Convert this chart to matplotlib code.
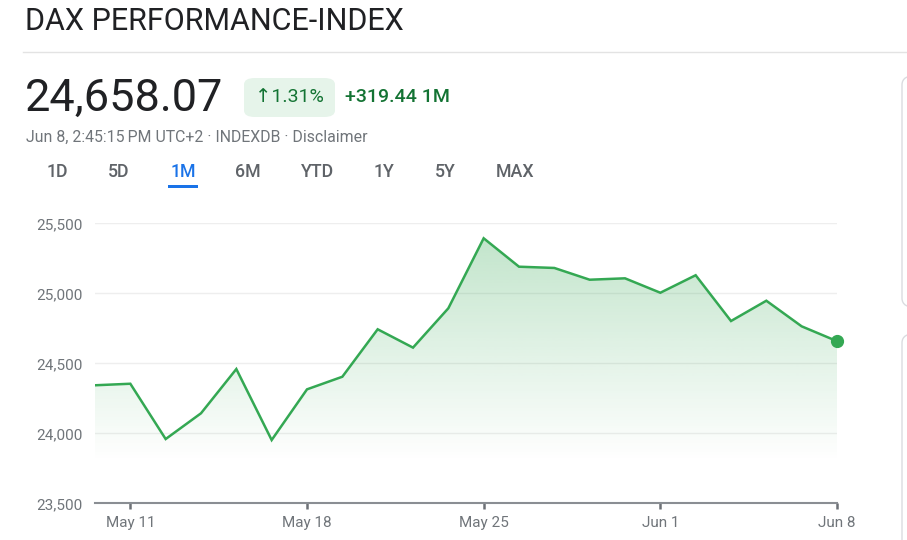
import matplotlib
matplotlib.use("Agg")
import matplotlib.pyplot as plt
import numpy as np
from matplotlib.patches import FancyBboxPatch, Rectangle
from matplotlib.lines import Line2D

plt.rcParams['font.family'] = ['Roboto', 'DejaVu Sans']

# ---------------- data ----------------
dates = ["May 8", "May 11", "May 12", "May 13", "May 14", "May 15",
         "May 18", "May 19", "May 20", "May 21", "May 22",
         "May 25", "May 26", "May 27", "May 28", "May 29",
         "Jun 1", "Jun 2", "Jun 3", "Jun 4", "Jun 5", "Jun 8"]
values = [24343, 24354, 23959, 24143, 24459, 23952,
          24314, 24404, 24743, 24612, 24893,
          25393, 25190, 25181, 25097, 25107,
          25004, 25129, 24802, 24947, 24764, 24658.07]
xtick_labels = ["May 11", "May 18", "May 25", "Jun 1", "Jun 8"]
ytick_values = [23500, 24000, 24500, 25000, 25500]
tabs = ["1D", "5D", "1M", "6M", "YTD", "1Y", "5Y", "MAX"]
title = "DAX PERFORMANCE-INDEX"
price = "24,658.07"
change_pct = "\u21911.31%"
change_abs = "+319.44 1M"
subtitle = "Jun 8, 2:45:15\u202fPM UTC+2 \u00b7 INDEXDB \u00b7 Disclaimer"

W, H = 907, 540
fig = plt.figure(figsize=(W / 100, H / 100), dpi=100)
fig.patch.set_facecolor("white")


def fx(px):
    return px / W


def fy(py):
    return 1 - py / H


GREEN = "#34a853"
GRAY_TXT = "#70757a"

# ---------------- header ----------------
fig.text(fx(25), fy(22), title, fontsize=22, color="#202124", va="center", ha="left")
fig.add_artist(Line2D([fx(23), 1.0], [fy(52), fy(52)], color="#e3e3e3", lw=1))

fig.text(fx(25), fy(99), price, fontsize=32.5, color="#202124", va="center", ha="left")

badge = FancyBboxPatch((fx(244), fy(117)), fx(335) - fx(244), fy(78) - fy(117),
                       boxstyle="round,pad=0,rounding_size=0.012",
                       transform=fig.transFigure, facecolor="#e6f4ea", edgecolor="none")
fig.add_artist(badge)
fig.text(fx(289.5), fy(97.5), change_pct, fontsize=14, color="#137333", va="center", ha="center",
         family=['Roboto', 'DejaVu Sans'])
fig.text(fx(345), fy(97.5), change_abs, fontsize=14, color="#137333", va="center", ha="left",
         fontweight="medium")

fig.text(fx(26), fy(137), subtitle, fontsize=11.4, color=GRAY_TXT, va="center", ha="left",
         family=['Roboto', 'DejaVu Sans'])

tab_x = [57, 119, 183, 248, 318, 384, 445, 515]
for t, x in zip(tabs, tab_x):
    col = "#1a73e8" if t == "1M" else "#5f6368"
    fig.text(fx(x), fy(172), t, fontsize=12.8, color=col, va="center", ha="center",
             fontweight="medium")
fig.add_artist(Rectangle((fx(168), fy(188)), fx(198) - fx(168), fy(185) - fy(188),
                         transform=fig.transFigure, facecolor="#1a73e8", edgecolor="none"))

# right-side cards (edges)
for (top, bot) in [(75, 308), (333, 560)]:
    card = FancyBboxPatch((fx(902), fy(bot)), 0.2, fy(top) - fy(bot),
                          boxstyle="round,pad=0,rounding_size=0.018",
                          transform=fig.transFigure, facecolor="white",
                          edgecolor="#dadce0", lw=1, clip_on=False)
    fig.add_artist(card)

# ---------------- chart ----------------
left_px, right_px = 95, 837
top_px, bot_px = 223.3, 503.3
ax = fig.add_axes([fx(left_px), fy(bot_px), fx(right_px) - fx(left_px), fy(top_px) - fy(bot_px)])
x = np.arange(len(values))
ymin, ymax = 23500, 25500
ax.set_xlim(0, len(values) - 1)
ax.set_ylim(ymin, ymax)

# gradient fill
fill_bottom = 23800
fill_top = 25400
grad = np.linspace(0, 1, 256).reshape(-1, 1)
rgba = np.zeros((256, 1, 4))
rgba[..., 0] = 52 / 255
rgba[..., 1] = 168 / 255
rgba[..., 2] = 83 / 255
rgba[..., 3] = 0.3 * grad
im = ax.imshow(rgba, extent=[0, len(values) - 1, fill_bottom, fill_top], origin="lower",
               aspect="auto", zorder=1, interpolation="bilinear")
poly = ax.fill_between(x, values, fill_bottom, color="none", lw=0)
clip_path = poly.get_paths()[0]
im.set_clip_path(clip_path, transform=ax.transData)

ax.plot(x, values, color=GREEN, lw=1.8, zorder=3, solid_joinstyle="miter")
ax.plot(x[-1], values[-1], "o", color=GREEN, markersize=8.5, zorder=4, clip_on=False)

ax.set_yticks(ytick_values)
ax.set_yticklabels([f"{v:,}" for v in ytick_values])
for v in ytick_values[1:]:
    ax.axhline(v, color="#eeeeee", lw=1, zorder=0)

tick_idx = [dates.index(d) for d in xtick_labels]
ax.set_xticks(tick_idx)
ax.set_xticklabels(xtick_labels)

for s in ["top", "right", "left"]:
    ax.spines[s].set_visible(False)
ax.spines["bottom"].set_color("#8a8e93")
ax.spines["bottom"].set_linewidth(1.5)
ax.tick_params(axis="y", length=0, pad=9, labelsize=11, labelcolor=GRAY_TXT)
ax.tick_params(axis="x", length=4.5, width=1.8, color="#6d7176", pad=5, labelsize=11,
               labelcolor=GRAY_TXT)
ax.set_facecolor("none")

fig.savefig("out.png", dpi=100, facecolor="white")
